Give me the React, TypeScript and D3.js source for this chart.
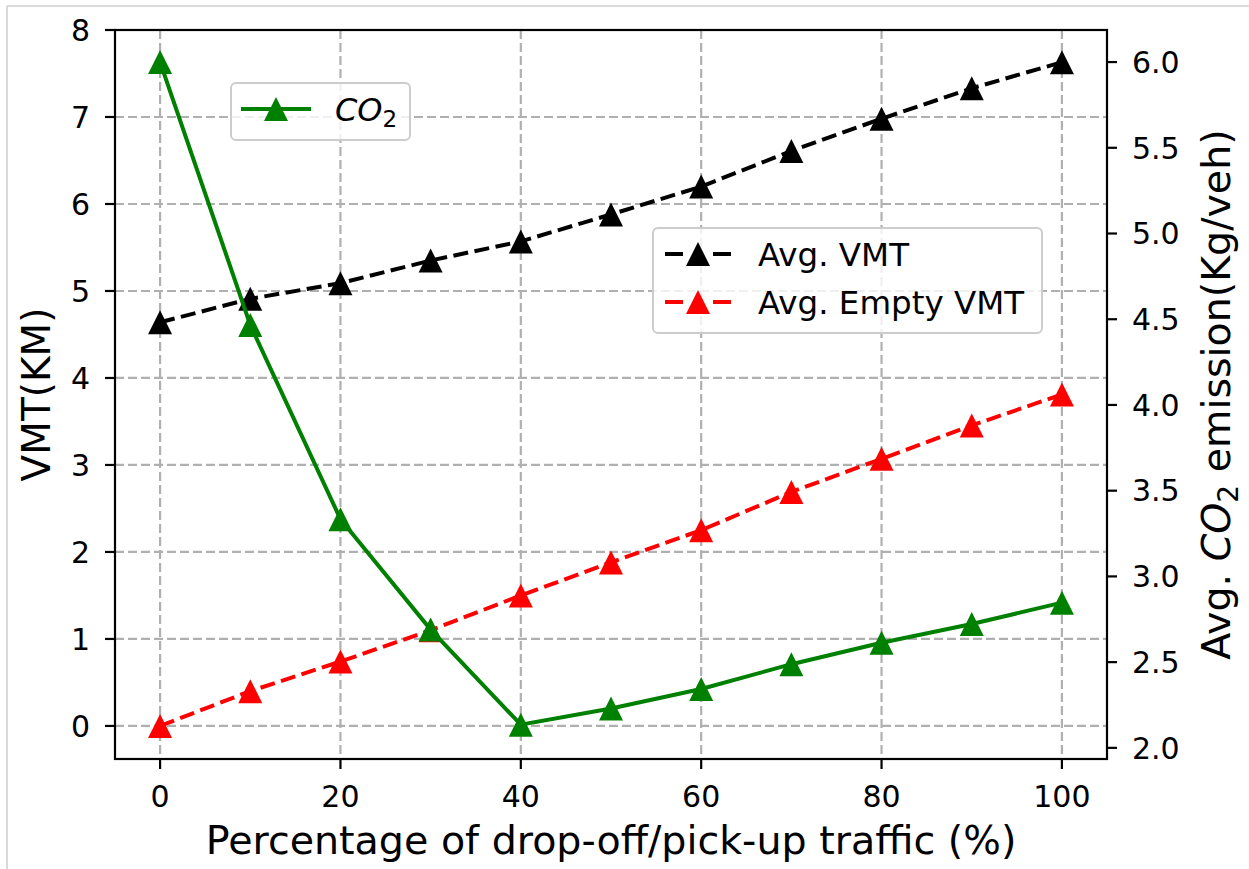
import React from "react";
import * as d3 from "d3";

const pct = [0, 10, 20, 30, 40, 50, 60, 70, 80, 90, 100];
const avgVMT = [4.64, 4.91, 5.09, 5.35, 5.57, 5.88, 6.2, 6.61, 6.98, 7.33, 7.63];
const avgEmptyVMT = [0.0, 0.4, 0.74, 1.1, 1.5, 1.88, 2.25, 2.69, 3.07, 3.455, 3.81];
const co2 = [6.0, 4.467, 3.334, 2.69, 2.135, 2.23, 2.343, 2.488, 2.613, 2.722, 2.847];
const xTicks = [0, 20, 40, 60, 80, 100];
const yLeftTicks = [0, 1, 2, 3, 4, 5, 6, 7, 8];
const yRightTicks = [2.0, 2.5, 3.0, 3.5, 4.0, 4.5, 5.0, 5.5, 6.0];

const W = 1249, H = 869;
const L = 115, R = 1107, T = 30, B = 759;
const FONT = "'DejaVu Sans', sans-serif";

export default function App() {
  const x = d3.scaleLinear().domain([-5, 105]).range([L, R]);
  const yL = d3.scaleLinear().domain([-0.38, 8.0]).range([B, T]);
  const yR = d3.scaleLinear().domain([1.935, 6.187]).range([B, T]);

  const lineL = d3.line<number>().x((_, i) => x(pct[i])).y((d) => yL(d));
  const lineR = d3.line<number>().x((_, i) => x(pct[i])).y((d) => yR(d));

  const tri = (cx: number, cy: number, s = 12) =>
    `M${cx},${cy - s}L${cx - s},${cy + s}L${cx + s},${cy + s}Z`;

  const grid = { stroke: "#b0b0b0", strokeWidth: 2.2, strokeDasharray: "9,4" };
  const LW = 4;

  return (
    <svg width={W} height={H} style={{ position: "absolute", left: 0, top: 0, background: "#fff" }} fontFamily={FONT}>
      <rect x={0} y={0} width={W} height={H} fill="#fff" />
      <line x1={7} y1={6} x2={W} y2={6} stroke="#dadada" strokeWidth={2} />
      <line x1={7} y1={6} x2={7} y2={H} stroke="#dadada" strokeWidth={2} />
      <defs>
        <clipPath id="plot">
          <rect x={L} y={T} width={R - L} height={B - T} />
        </clipPath>
      </defs>
      <g>
        {xTicks.map((t) => (
          <line key={"gx" + t} x1={x(t)} x2={x(t)} y1={T} y2={B} {...grid} />
        ))}
        {yLeftTicks.map((t) => (
          <line key={"gy" + t} x1={L} x2={R} y1={yL(t)} y2={yL(t)} {...grid} />
        ))}
      </g>
      <g clipPath="url(#plot)">
        <path d={lineL(avgVMT) || ""} fill="none" stroke="#000" strokeWidth={LW} strokeDasharray="15,6.5" />
        {avgVMT.map((v, i) => (
          <path key={"b" + i} d={tri(x(pct[i]), yL(v))} fill="#000" />
        ))}
        <path d={lineL(avgEmptyVMT) || ""} fill="none" stroke="#ff0000" strokeWidth={LW} strokeDasharray="15,6.5" />
        {avgEmptyVMT.map((v, i) => (
          <path key={"r" + i} d={tri(x(pct[i]), yL(v))} fill="#ff0000" />
        ))}
      </g>
      <g>
        <rect x={653} y={228} width={389} height={105} rx={5} fill="#fff" fillOpacity={0.8} stroke="#cccccc" strokeWidth={2} />
        <line x1={665} x2={731} y1={254} y2={254} stroke="#000" strokeWidth={LW} strokeDasharray="18,30,18" />
        <path d={tri(698, 254)} fill="#000" />
        <text x={758} y={266} fontSize={32.5} fill="#000">Avg. VMT</text>
        <line x1={665} x2={731} y1={302} y2={302} stroke="#ff0000" strokeWidth={LW} strokeDasharray="18,30,18" />
        <path d={tri(698, 302)} fill="#ff0000" />
        <text x={758} y={314} fontSize={32.5} fill="#000">Avg. Empty VMT</text>
      </g>
      <g clipPath="url(#plot)">
        <path d={lineR(co2) || ""} fill="none" stroke="#008000" strokeWidth={LW} />
        {co2.map((v, i) => (
          <path key={"g" + i} d={tri(x(pct[i]), yR(v))} fill="#008000" />
        ))}
      </g>
      <g>
        <rect x={231} y={83} width={179} height={57} rx={5} fill="#fff" fillOpacity={0.8} stroke="#cccccc" strokeWidth={2} />
        <line x1={241} x2={311} y1={109} y2={109} stroke="#008000" strokeWidth={LW} />
        <path d={tri(276, 109)} fill="#008000" />
        <text x={335} y={121} fontSize={32} fill="#000">
          <tspan fontStyle="italic">CO</tspan>
          <tspan fontSize={23} dy={6}>2</tspan>
        </text>
      </g>
      <rect x={L} y={T} width={R - L} height={B - T} fill="none" stroke="#000" strokeWidth={2.2} />
      {xTicks.map((t) => (
        <g key={"xt" + t}>
          <line x1={x(t)} x2={x(t)} y1={B} y2={B + 10} stroke="#000" strokeWidth={2.2} />
          <text x={x(t)} y={807} fontSize={30} textAnchor="middle">{t}</text>
        </g>
      ))}
      {yLeftTicks.map((t) => (
        <g key={"yl" + t}>
          <line x1={L - 10} x2={L} y1={yL(t)} y2={yL(t)} stroke="#000" strokeWidth={2.2} />
          <text x={90} y={yL(t)} dy="0.36em" fontSize={30} textAnchor="end">{t}</text>
        </g>
      ))}
      {yRightTicks.map((t) => (
        <g key={"yr" + t}>
          <line x1={R} x2={R + 10} y1={yR(t)} y2={yR(t)} stroke="#000" strokeWidth={2.2} />
          <text x={1132} y={yR(t)} dy="0.36em" fontSize={30} textAnchor="start">{t.toFixed(1)}</text>
        </g>
      ))}
      <text x={(L + R) / 2} y={854} fontSize={39.6} textAnchor="middle">Percentage of drop-off/pick-up traffic (%)</text>
      <text transform={`translate(50,${(T + B) / 2}) rotate(-90)`} fontSize={39} textAnchor="middle">VMT(KM)</text>
      <text transform={`translate(1230,${(T + B) / 2}) rotate(-90)`} fontSize={39.5} textAnchor="middle">
        Avg. <tspan fontStyle="italic">CO</tspan>
        <tspan fontSize={28} dy={8}>2</tspan>
        <tspan dy={-8}> emission(Kg/veh)</tspan>
      </text>
    </svg>
  );
}
